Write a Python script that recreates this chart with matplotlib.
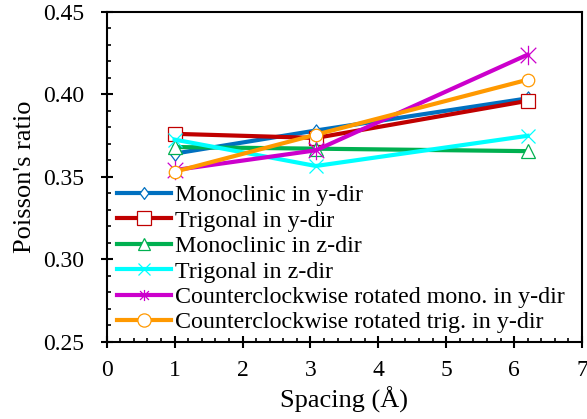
import matplotlib
matplotlib.use("Agg")
import matplotlib.pyplot as plt
from matplotlib.path import Path
from matplotlib.ticker import MultipleLocator, FormatStrFormatter

plt.rcParams['font.family'] = ['Liberation Serif', 'DejaVu Serif']
plt.rcParams['mathtext.fontset'] = 'stix'

spacing = [1.0, 3.08, 6.2]
mono_y = [0.364, 0.378, 0.3975]
trig_y = [0.376, 0.3735, 0.396]
mono_z = [0.368, 0.367, 0.3655]
trig_z = [0.3725, 0.3565, 0.3748]
ccw_mono_y = [0.354, 0.366, 0.424]
ccw_trig_y = [0.353, 0.3755, 0.4088]

labels = ["Monoclinic in y-dir", "Trigonal in y-dir", "Monoclinic in z-dir",
          "Trigonal in z-dir", "Counterclockwise rotated mono. in y-dir",
          "Counterclockwise rotated trig. in y-dir"]
colors = ["#0070C0", "#C00000", "#00B050", "#00FFFF", "#CC00CC", "#FF9900"]

star = Path([(0, -1), (0, 1), (-0.8, -0.8), (0.8, 0.8), (-0.8, 0.8), (0.8, -0.8)],
            [Path.MOVETO, Path.LINETO, Path.MOVETO, Path.LINETO, Path.MOVETO, Path.LINETO])
diamond = Path([(0, 1), (0.75, 0), (0, -1), (-0.75, 0), (0, 1)],
               [Path.MOVETO, Path.LINETO, Path.LINETO, Path.LINETO, Path.CLOSEPOLY])
markers = [diamond, 's', '^', 'x', star, 'o']
plot_ms = [9.5, 9.5, 9.5, 9.5, 14, 9]
legend_ms = [8.5, 10, 9, 9, 8, 9.5]

fig = plt.figure(figsize=(5.87, 4.19), dpi=100)
ax = fig.add_axes([0.1818, 0.1845, 0.8097, 0.7875])

series = [mono_y, trig_y, mono_z, trig_z, ccw_mono_y, ccw_trig_y]
for ys, lab, c, m, ms in zip(series, labels, colors, markers, plot_ms):
    filled = not (isinstance(m, str) and m == 'x') and m is not star
    ax.plot(spacing, ys, color=c, lw=3, marker=m, markersize=ms,
            markeredgecolor=c, markerfacecolor='white' if filled else c,
            markeredgewidth=0.9, label=lab)

ax.set_xlim(0, 7)
ax.set_ylim(0.25, 0.45)
ax.xaxis.set_major_locator(MultipleLocator(1))
ax.xaxis.set_minor_locator(MultipleLocator(0.2))
ax.yaxis.set_major_locator(MultipleLocator(0.05))
ax.yaxis.set_minor_locator(MultipleLocator(0.01))
ax.yaxis.set_major_formatter(FormatStrFormatter('%.2f'))

for s in ax.spines.values():
    s.set_linewidth(1.5)
ax.tick_params(which='major', direction='inout', length=9, width=1.5, labelsize=17)
ax.tick_params(axis='y', which='major', pad=12)
ax.tick_params(axis='x', which='major', pad=9)
ax.tick_params(which='minor', direction='in', length=3, width=1.2)

ax.set_xlabel("Spacing (Å)", fontsize=19, labelpad=4)
ax.set_ylabel("Poisson's ratio", fontsize=19, labelpad=5)

leg = ax.legend(loc='lower left', bbox_to_anchor=(0.022, 0.025), frameon=False,
                fontsize=17.3, handlelength=2.25, handletextpad=0.17, labelspacing=0.15,
                borderpad=0, borderaxespad=0)
for h, ms in zip(leg.legend_handles, legend_ms):
    h.set_markersize(ms)

fig.savefig("out.png", dpi=100)
